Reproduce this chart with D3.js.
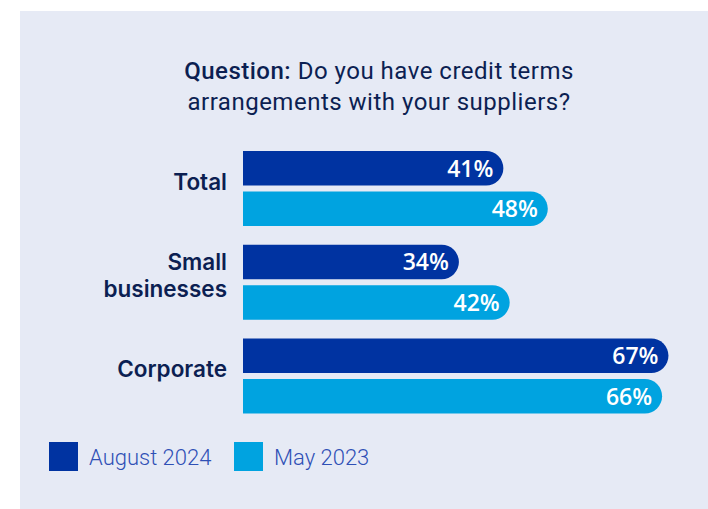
<!DOCTYPE html>
<html>
<head>
<meta charset="utf-8">
<script src="https://cdn.jsdelivr.net/npm/d3@7/dist/d3.min.js"></script>
<style>
  html, body { margin: 0; padding: 0; background: #ffffff; }
  svg { display: block; }
</style>
</head>
<body>
<svg id="chart" width="708" height="509"></svg>
<script>
// Survey answers by respondent group, percent saying "yes"
const categories = ["Total", "Small businesses", "Corporate"];
const categoryLines = [["Total"], ["Small", "businesses"], ["Corporate"]];
const seriesNames = ["August 2024", "May 2023"];
const august2024 = [41, 34, 67];
const may2023 = [48, 42, 66];
const seriesValues = [august2024, may2023];

const colors = ["#0033a1", "#00a3e0"];
const navy = "#0c1f52";

const svg = d3.select("#chart");

// panel background
svg.append("rect")
  .attr("x", 20).attr("y", 11)
  .attr("width", 708 - 20).attr("height", 509 - 11)
  .attr("fill", "#e6eaf5");

// title
const title = svg.append("text")
  .attr("text-anchor", "middle")
  .attr("font-family", "Roboto, 'Liberation Sans', sans-serif")
  .attr("font-size", 24)
  .attr("letter-spacing", 0.5)
  .attr("fill", navy);
const l1 = title.append("tspan").attr("x", 379).attr("y", 79);
l1.append("tspan").attr("font-weight", 500).text("Question:");
l1.append("tspan").text(" Do you have credit terms");
title.append("tspan").attr("x", 379).attr("y", 110).text("arrangements with your suppliers?");

// scales
const x = d3.scaleLinear().domain([0, 100]).range([243, 243 + 635]);
const y = d3.scaleBand().domain(categories).range([151, 413.5]).paddingInner(0.2);
const ySeries = d3.scaleBand().domain(seriesNames).range([0, y.bandwidth()]).paddingInner(0.15);

// bar with square left end and fully rounded right end
function pillPath(x0, x1, y0, h) {
  const r = h / 2;
  const p = d3.path();
  p.moveTo(x0, y0);
  p.lineTo(x1 - r, y0);
  p.arc(x1 - r, y0 + r, r, -Math.PI / 2, Math.PI / 2, false);
  p.lineTo(x0, y0 + h);
  p.closePath();
  return p.toString();
}

const rows = [];
categories.forEach((c, i) => {
  seriesNames.forEach((s, j) => {
    rows.push({ cat: c, series: s, si: j, value: seriesValues[j][i] });
  });
});

const bars = svg.append("g");
bars.selectAll("path")
  .data(rows)
  .join("path")
  .attr("d", d => pillPath(x(0), x(d.value), y(d.cat) + ySeries(d.series), ySeries.bandwidth()))
  .attr("fill", d => colors[d.si]);

bars.selectAll("text")
  .data(rows)
  .join("text")
  .attr("x", d => x(d.value) - 10)
  .attr("y", d => y(d.cat) + ySeries(d.series) + ySeries.bandwidth() / 2)
  .attr("dy", "0.36em")
  .attr("text-anchor", "end")
  .attr("font-family", "'Open Sans', Lato, sans-serif")
  .attr("font-weight", 600)
  .attr("font-size", 23)
  .attr("fill", "#ffffff")
  .text(d => d.value + "%");

// category labels, one text element per line
const lineH = 27;
const labels = svg.append("g")
  .attr("text-anchor", "end")
  .attr("font-family", "Inter, 'Noto Sans', sans-serif")
  .attr("font-weight", 600)
  .attr("font-size", 22.5)
  .attr("fill", navy);
categories.forEach((c, i) => {
  const lines = categoryLines[i];
  const cy = y(c) + y.bandwidth() / 2 - 7;
  lines.forEach((ln, k) => {
    labels.append("text")
      .attr("x", 227)
      .attr("y", cy + (k - (lines.length - 1) / 2) * lineH)
      .attr("dy", "0.36em")
      .text(ln);
  });
});

// legend
const legendX = [49, 234];
const legend = svg.append("g");
seriesNames.forEach((s, j) => {
  legend.append("rect")
    .attr("x", legendX[j]).attr("y", 442)
    .attr("width", 29).attr("height", 29)
    .attr("fill", colors[j]);
  legend.append("text")
    .attr("x", legendX[j] + 40).attr("y", 465)
    .attr("font-family", "Roboto, 'Liberation Sans', sans-serif")
    .attr("font-weight", 300)
    .attr("font-size", 22)
    .attr("fill", "#2f50b5")
    .text(s);
});
</script>
</body>
</html>
